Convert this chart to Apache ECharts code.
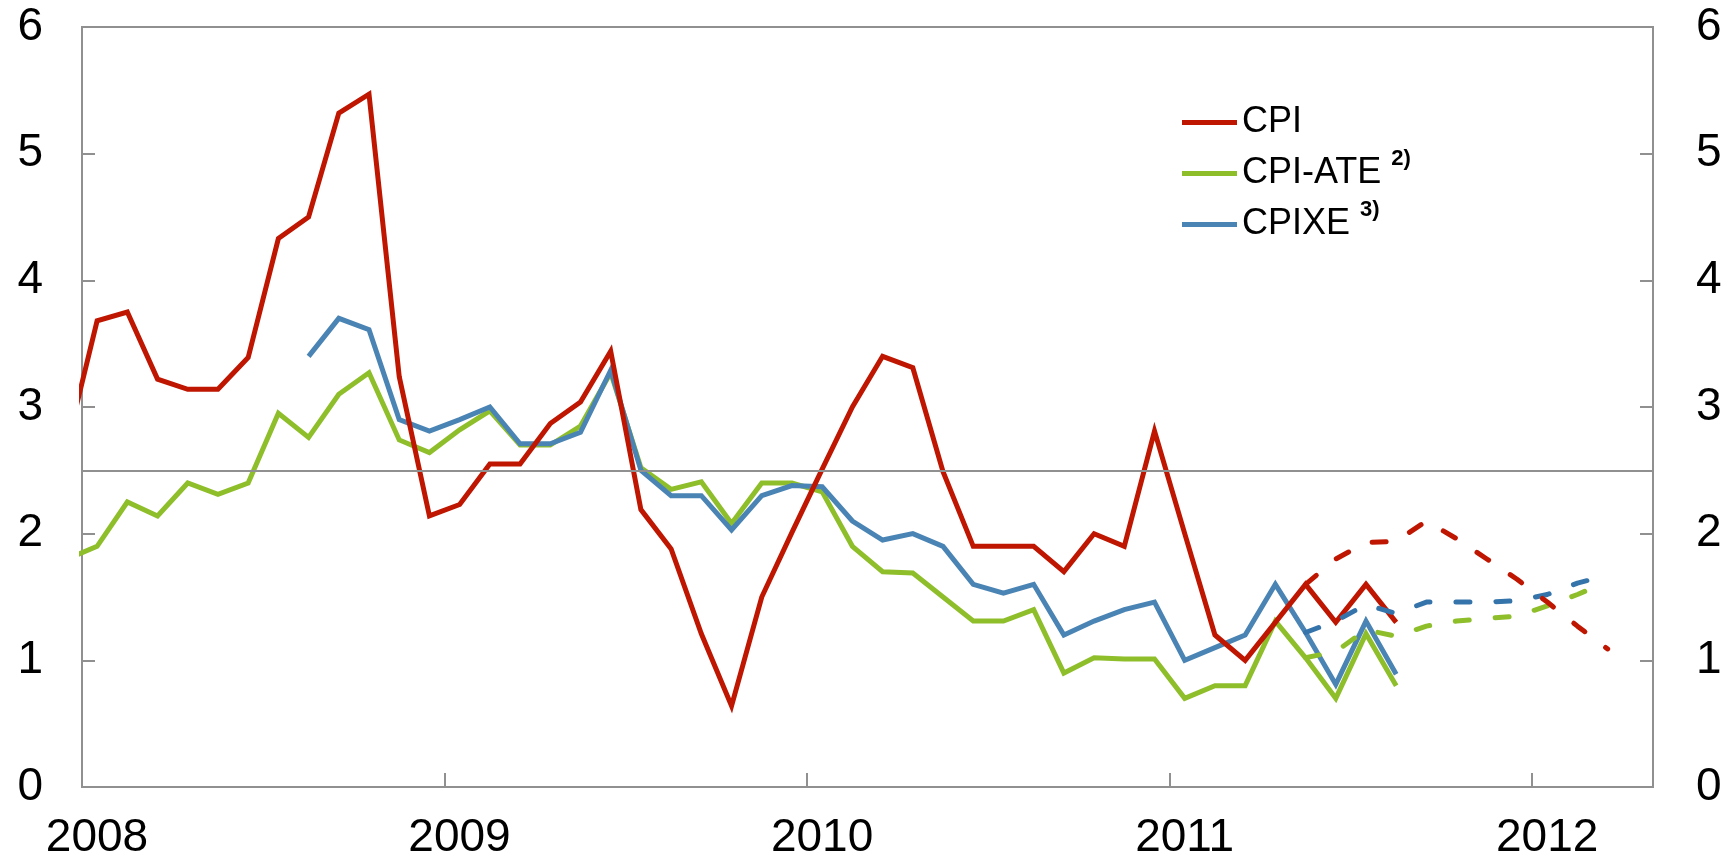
<!DOCTYPE html>
<html>
<head>
<meta charset="utf-8">
<script src="https://cdn.jsdelivr.net/npm/echarts@6/dist/echarts.min.js"></script>
<style>
  html, body { margin: 0; padding: 0; background: #fff; }
  #chart { width: 1736px; height: 866px; }
</style>
</head>
<body>
<div id="chart"></div>
<script>
// ---- Data (12-month change, per cent) ----
const months = [
  '2007-12',
  '2008-01','2008-02','2008-03','2008-04','2008-05','2008-06','2008-07','2008-08','2008-09','2008-10','2008-11','2008-12',
  '2009-01','2009-02','2009-03','2009-04','2009-05','2009-06','2009-07','2009-08','2009-09','2009-10','2009-11','2009-12',
  '2010-01','2010-02','2010-03','2010-04','2010-05','2010-06','2010-07','2010-08','2010-09','2010-10','2010-11','2010-12',
  '2011-01','2011-02','2011-03','2011-04','2011-05','2011-06','2011-07','2011-08'
];
const cpi = [
  2.70,
  3.68, 3.75, 3.22, 3.14, 3.14, 3.39, 4.33, 4.50, 5.32, 5.47, 3.24, 2.14,
  2.23, 2.55, 2.55, 2.87, 3.04, 3.44, 2.19, 1.88, 1.21, 0.64, 1.50, 2.01,
  2.51, 3.00, 3.40, 3.31, 2.49, 1.90, 1.90, 1.90, 1.70, 2.00, 1.90, 2.81,
  2.00, 1.20, 1.00, 1.30, 1.60, 1.30, 1.60, 1.30
];
const cpiAte = [
  1.80,
  1.90, 2.25, 2.14, 2.40, 2.31, 2.40, 2.95, 2.76, 3.10, 3.27, 2.74, 2.64,
  2.82, 2.97, 2.70, 2.70, 2.85, 3.27, 2.52, 2.35, 2.41, 2.08, 2.40, 2.40,
  2.33, 1.90, 1.70, 1.69, 1.50, 1.31, 1.31, 1.40, 0.90, 1.02, 1.01, 1.01,
  0.70, 0.80, 0.80, 1.31, 1.02, 0.70, 1.21, 0.80
];
const cpixe = [
  null,
  null, null, null, null, null, null, null, 3.40, 3.70, 3.61, 2.90, 2.81,
  2.90, 3.00, 2.71, 2.71, 2.80, 3.29, 2.50, 2.30, 2.30, 2.03, 2.30, 2.38,
  2.37, 2.10, 1.95, 2.00, 1.90, 1.60, 1.53, 1.60, 1.20, 1.31, 1.40, 1.46,
  1.00, 1.10, 1.20, 1.60, 1.22, 0.81, 1.31, 0.89
];
// Projections
const projMonths = ['2011-05','2011-06','2011-07','2011-08','2011-09','2011-10','2011-11','2011-12','2012-01','2012-02','2012-03'];
const cpiProj    = [1.60, 1.80, 1.93, 1.94, 2.10, 1.96, 1.80, 1.64, 1.46, 1.27, 1.09];
const cpiAteProj = [1.02, 1.07, 1.24, 1.19, 1.27, 1.31, 1.33, 1.35, 1.43, 1.52, 1.62];
const cpixeProj  = [1.22, 1.31, 1.44, 1.37, 1.46, 1.46, 1.46, 1.47, 1.52, 1.61, 1.67];

const inflationTarget = 2.5;
const yearLabels = ['2008', '2009', '2010', '2011', '2012'];
const yTicks = [0, 1, 2, 3, 4, 5, 6];
const seriesNames = ['CPI', 'CPI-ATE', 'CPIXE'];
const footnotes = { 'CPI-ATE': '2)', 'CPIXE': '3)' };

// month string -> position on a month axis (0 = start of Jan 2008, points mid-month)
function monthPos(m) {
  const [y, mo] = m.split('-').map(Number);
  return (y - 2008) * 12 + (mo - 1) + 0.5;
}
function pairs(ms, vals) {
  return ms.map((m, i) => [monthPos(m), vals[i]]);
}

const RED = '#BE1600', GREEN = '#8FBE2B', BLUE = '#4A84B4', BLUE_D = '#3574AB';
const FONT = "'Liberation Sans', Arial, sans-serif";
const AXIS_GREY = '#909090';
const LW = 5;

const chart = echarts.init(document.getElementById('chart'), null, { renderer: 'canvas' });

function solid(name, color, data) {
  return {
    name: name, type: 'line', data: data, symbol: 'none', connectNulls: false,
    lineStyle: { color: color, width: LW, join: 'miter', cap: 'butt' },
    itemStyle: { color: color },
    animation: false, clip: true, z: 3
  };
}
function dashed(name, color, data) {
  return {
    name: name, type: 'line', data: data, symbol: 'none',
    lineStyle: { color: color, width: LW, type: [14, 26], cap: 'round', join: 'round' },
    itemStyle: { color: color },
    animation: false, clip: true, z: 4
  };
}

const targetSeries = solid('target', AXIS_GREY, []);
targetSeries.markLine = {
  silent: true, symbol: 'none', animation: false,
  label: { show: false },
  lineStyle: { color: AXIS_GREY, width: 2, type: 'solid' },
  data: [{ yAxis: inflationTarget }]
};
targetSeries.z = 1;

const option = {
  animation: false,
  backgroundColor: '#ffffff',
  textStyle: { fontFamily: FONT },
  grid: {
    left: 82, right: 83, top: 27, bottom: 79,
    show: true, borderColor: AXIS_GREY, borderWidth: 2, backgroundColor: 'transparent',
    containLabel: false
  },
  legend: {
    show: true,
    orient: 'vertical',
    left: 1177, top: 92,
    data: seriesNames,
    itemWidth: 55, itemHeight: 14, itemGap: 0,
    icon: 'path://M0,0 L55,0 L55,5 L0,5 Z',
    formatter: function (name) {
      return footnotes[name] ? name + ' {sup|' + footnotes[name] + '}' : name;
    },
    textStyle: {
      fontFamily: FONT, fontSize: 36, color: '#000', lineHeight: 51,
      rich: {
        sup: { fontFamily: FONT, fontSize: 22, fontWeight: 'bold', color: '#000', lineHeight: 46, verticalAlign: 'top' }
      }
    },
    selectedMode: false
  },
  xAxis: {
    type: 'value', min: 0, max: 52, interval: 12,
    position: 'bottom',
    axisLine: { show: false },
    axisTick: { show: true, inside: true, length: 14, lineStyle: { color: AXIS_GREY, width: 2 } },
    splitLine: { show: false },
    axisLabel: {
      show: true, fontSize: 46, color: '#000', fontFamily: FONT, margin: 28,
      padding: [0, 0, 0, 30],
      showMinLabel: true, showMaxLabel: false,
      formatter: function (v) {
        if (v % 12 !== 0) return '';
        return yearLabels[v / 12] || '';
      }
    }
  },
  yAxis: [
    {
      type: 'value', min: 0, max: 6, interval: 1, position: 'left',
      axisLine: { show: false },
      axisTick: { show: true, inside: true, length: 13, lineStyle: { color: AXIS_GREY, width: 2 } },
      splitLine: { show: false },
      axisLabel: { fontSize: 46, color: '#000', fontFamily: FONT, margin: 39,
        formatter: function (v) { return yTicks.indexOf(v) >= 0 ? String(v) : ''; } }
    },
    {
      type: 'value', min: 0, max: 6, interval: 1, position: 'right',
      axisLine: { show: false },
      axisTick: { show: true, inside: true, length: 13, lineStyle: { color: AXIS_GREY, width: 2 } },
      splitLine: { show: false },
      axisLabel: { fontSize: 46, color: '#000', fontFamily: FONT, margin: 43,
        formatter: function (v) { return yTicks.indexOf(v) >= 0 ? String(v) : ''; } }
    }
  ],
  series: [
    targetSeries,
    solid('CPI-ATE', GREEN, pairs(months, cpiAte)),
    solid('CPIXE', BLUE, pairs(months, cpixe)),
    solid('CPI', RED, pairs(months, cpi)),
    dashed('CPI-ATE projection', GREEN, pairs(projMonths, cpiAteProj)),
    dashed('CPIXE projection', BLUE_D, pairs(projMonths, cpixeProj)),
    dashed('CPI projection', RED, pairs(projMonths, cpiProj))
  ]
};

chart.setOption(option);
</script>
</body>
</html>
